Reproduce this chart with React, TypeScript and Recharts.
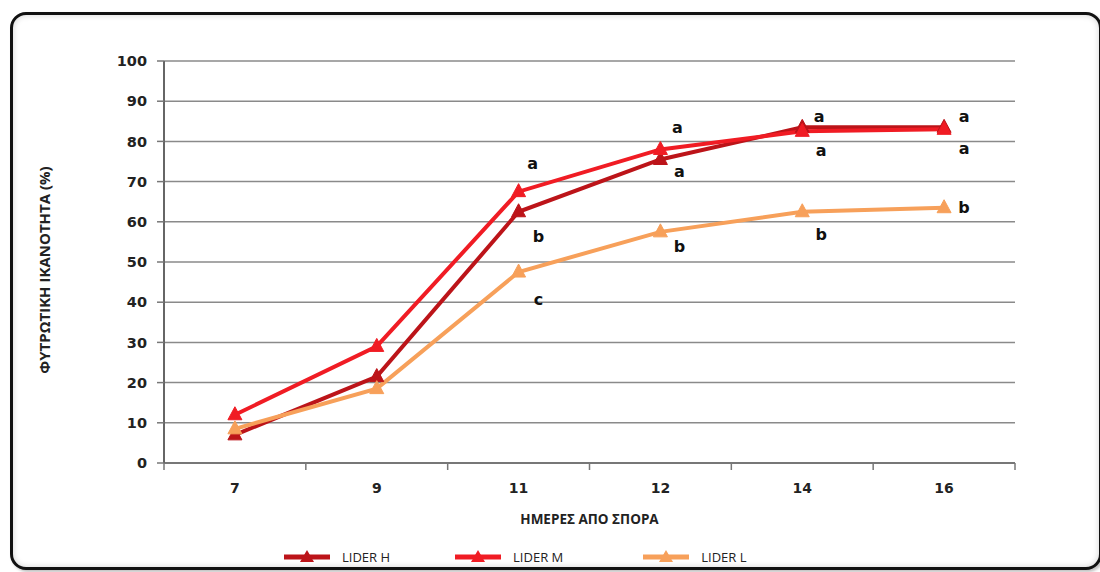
import React from "react";
import {
  LineChart,
  Line,
  XAxis,
  YAxis,
  CartesianGrid,
  Legend,
  LabelList,
} from "recharts";

const days = ["7", "9", "11", "12", "14", "16"];
const liderH = [7, 21.5, 62.5, 75.5, 83.5, 83.5];
const liderM = [12, 29, 67.5, 78, 82.5, 83];
const liderL = [8.5, 18.5, 47.5, 57.5, 62.5, 63.5];
const lettersH = [null, null, "b", "a", "a", "a"];
const lettersM = [null, null, "a", "a", "a", "a"];
const lettersL = [null, null, "c", "b", "b", "b"];
const yTicks = [0, 10, 20, 30, 40, 50, 60, 70, 80, 90, 100];
const seriesNames = ["LIDER H", "LIDER M", "LIDER L"];

const data = days.map((d, i) => ({
  day: d,
  h: liderH[i],
  m: liderM[i],
  l: liderL[i],
  hLetter: lettersH[i],
  mLetter: lettersM[i],
  lLetter: lettersL[i],
}));

const COLORS = { h: "#BC1419", m: "#F01C24", l: "#F7A05A" };
const TICK_FONT = "'DejaVu Sans', Verdana, sans-serif";
const X_TICK_MARGIN = 20;

// label offsets (styling) relative to each point
const offH = [
  [0, 0], [0, 0], [20, 25], [19, 12], [19, 23], [20, 21],
];
const offM = [
  [0, 0], [0, 0], [14, -28], [17, -22], [17, -15], [20, -13],
];
const offL = [
  [0, 0], [0, 0], [20, 27], [19, 15], [19, 23], [20, 0],
];

const letterRenderer = (offs: number[][]) => (props: any) => {
  const { x, y, value, index } = props;
  if (!value) return null;
  const [dx, dy] = offs[index] || [0, 0];
  return (
    <text
      x={x + dx}
      y={y + dy}
      textAnchor="middle"
      dominantBaseline="central"
      fontFamily={TICK_FONT}
      fontWeight="bold"
      fontSize={16}
      fill="#111"
    >
      {value}
    </text>
  );
};

const triangleDot = (color: string) => (props: any) => {
  const { cx, cy, index } = props;
  if (cx == null || cy == null) return <g key={index} />;
  return (
    <polygon
      key={index}
      points={`${cx},${cy - 8} ${cx - 7},${cy + 5} ${cx + 7},${cy + 5}`}
      fill={color}
      stroke={color}
      strokeWidth={1}
    />
  );
};

// category tick: label plus Excel-style separator marks between categories
const CategoryTick = (props: any) => {
  const { x, y, payload, index, width, visibleTicksCount } = props;
  const n = visibleTicksCount || days.length;
  const step = width / n;
  const axisY = y - X_TICK_MARGIN;
  return (
    <g>
      <line x1={x - step / 2} y1={axisY} x2={x - step / 2} y2={axisY + 7} stroke="#777" strokeWidth={1.5} />
      {index === n - 1 && (
        <line x1={x + step / 2} y1={axisY} x2={x + step / 2} y2={axisY + 7} stroke="#777" strokeWidth={1.5} />
      )}
      <text
        x={x}
        y={y}
        textAnchor="middle"
        dominantBaseline="hanging"
        fontFamily={TICK_FONT}
        fontWeight="bold"
        fontSize={14}
        fill="#222"
      >
        {payload.value}
      </text>
    </g>
  );
};

const renderLegend = (props: any) => {
  const payload = [...(props.payload || [])].sort(
    (a: any, b: any) => seriesNames.indexOf(a.value) - seriesNames.indexOf(b.value)
  );
  const gaps = [64, 79, 0];
  return (
    <div
      style={{
        display: "flex",
        alignItems: "center",
        paddingLeft: 283,
        height: 30,
        fontFamily: "'Open Sans', sans-serif",
        fontSize: 13,
        color: "#222",
      }}
    >
      {payload.map((p: any, i: number) => (
        <div
          key={i}
          style={{ display: "flex", alignItems: "center", marginRight: gaps[i] }}
        >
          <svg width={48} height={16} style={{ marginRight: 11 }}>
            <line x1={1} y1={8} x2={47} y2={8} stroke={p.color} strokeWidth={5} />
            <polygon points="24,1 17,13 31,13" fill={p.color} />
          </svg>
          <span>{p.value}</span>
        </div>
      ))}
    </div>
  );
};

export default function App() {
  return (
    <div
      style={{
        position: "absolute",
        left: 0,
        top: 0,
        width: 1100,
        height: 572,
        background: "#fff",
        overflow: "hidden",
      }}
    >
      <div
        style={{
          position: "absolute",
          left: 10,
          top: 12,
          width: 1086,
          height: 552,
          border: "3px solid #111",
          borderRadius: 16,
          boxShadow: "inset 0 0 6px rgba(0,0,0,0.18), 2px 2px 3px rgba(0,0,0,0.25)",
          background: "#fff",
        }}
      />
      <div style={{ position: "absolute", left: 0, top: 0 }}>
        <LineChart
          width={1100}
          height={572}
          data={data}
          margin={{ top: 61, right: 85, left: 0, bottom: 0 }}
        >
          <CartesianGrid
            vertical={false}
            stroke="#8a8a8a"
            strokeWidth={1.5}
          />
          <XAxis
            dataKey="day"
            scale="band"
            height={79}
            tickSize={0}
            tickMargin={X_TICK_MARGIN}
            tickLine={false}
            interval={0}
            axisLine={{ stroke: "#777", strokeWidth: 2 }}
            tick={<CategoryTick />}
            label={{
              value: "ΗΜΕΡΕΣ ΑΠΟ ΣΠΟΡΑ",
              position: "insideTop",
              offset: 51,
              style: {
                fontFamily: "'Open Sans', sans-serif",
                fontSize: 13.5,
                fontWeight: 700,
                fill: "#222",
              },
            }}
          />
          <YAxis
            width={164}
            domain={[0, 100]}
            ticks={yTicks}
            interval={0}
            tickSize={7}
            tickMargin={10}
            axisLine={{ stroke: "#666", strokeWidth: 2 }}
            tickLine={{ stroke: "#777", strokeWidth: 1.5 }}
            tick={{
              fontFamily: TICK_FONT,
              fontWeight: "bold",
              fontSize: 14.5,
              fill: "#222",
            }}
            label={{
              value: "ΦΥΤΡΩΤΙΚΗ ΙΚΑΝΟΤΗΤΑ (%)",
              angle: -90,
              position: "center",
              dx: -37,
              dy: 8,
              style: {
                fontFamily: "'Open Sans', sans-serif",
                fontSize: 15,
                fontWeight: 700,
                fill: "#222",
                textAnchor: "middle",
              },
            }}
          />
          <YAxis
            yAxisId="right"
            orientation="right"
            width={0}
            domain={[0, 100]}
            tick={false}
            tickLine={false}
            axisLine={{ stroke: "#8a8a8a", strokeWidth: 2 }}
          />
          <Legend verticalAlign="bottom" height={30} content={renderLegend} />
          <Line
            dataKey="h"
            name={seriesNames[0]}
            stroke={COLORS.h}
            strokeWidth={4}
            dot={triangleDot(COLORS.h)}
            activeDot={false}
            isAnimationActive={false}
          >
            <LabelList dataKey="hLetter" content={letterRenderer(offH)} />
          </Line>
          <Line
            dataKey="m"
            name={seriesNames[1]}
            stroke={COLORS.m}
            strokeWidth={4}
            dot={triangleDot(COLORS.m)}
            activeDot={false}
            isAnimationActive={false}
          >
            <LabelList dataKey="mLetter" content={letterRenderer(offM)} />
          </Line>
          <Line
            dataKey="l"
            name={seriesNames[2]}
            stroke={COLORS.l}
            strokeWidth={4}
            dot={triangleDot(COLORS.l)}
            activeDot={false}
            isAnimationActive={false}
          >
            <LabelList dataKey="lLetter" content={letterRenderer(offL)} />
          </Line>
        </LineChart>
      </div>
    </div>
  );
}
